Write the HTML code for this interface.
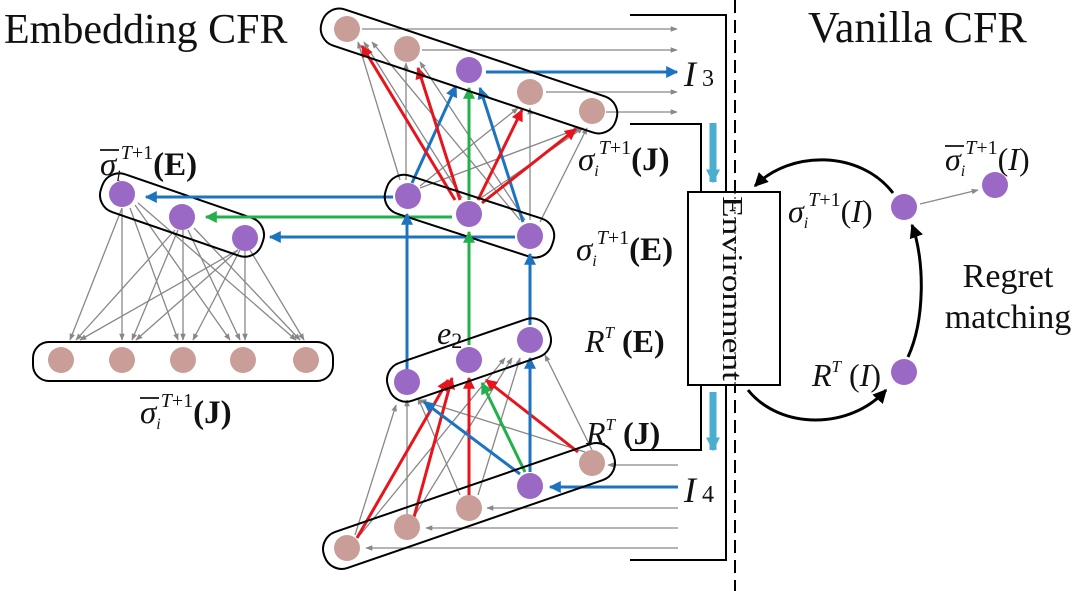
<!DOCTYPE html>
<html><head><meta charset="utf-8"><style>
html,body{margin:0;padding:0;background:#fff;width:1080px;height:591px;overflow:hidden}
svg{display:block}
text{font-family:"Liberation Serif",serif;fill:#111}
</style></head><body>
<svg width="1080" height="591" viewBox="0 0 1080 591" xmlns="http://www.w3.org/2000/svg">
<defs>
<marker id="ag" viewBox="0 0 10 10" refX="9" refY="5" markerWidth="7" markerHeight="7" orient="auto-start-reverse" markerUnits="userSpaceOnUse"><path d="M0,1 L10,5 L0,9 z" fill="#888"/></marker>
<marker id="ar" viewBox="0 0 10 10" refX="9" refY="5" markerWidth="12" markerHeight="12" orient="auto" markerUnits="userSpaceOnUse"><path d="M0,0 L10,5 L0,10 z" fill="#e8141c"/></marker>
<marker id="ab" viewBox="0 0 10 10" refX="9" refY="5" markerWidth="12" markerHeight="12" orient="auto" markerUnits="userSpaceOnUse"><path d="M0,0 L10,5 L0,10 z" fill="#1c74c0"/></marker>
<marker id="agr" viewBox="0 0 10 10" refX="9" refY="5" markerWidth="12" markerHeight="12" orient="auto" markerUnits="userSpaceOnUse"><path d="M0,0 L10,5 L0,10 z" fill="#22b04a"/></marker>
<marker id="ak" viewBox="0 0 10 10" refX="9" refY="5" markerWidth="14" markerHeight="14" orient="auto" markerUnits="userSpaceOnUse"><path d="M0,0 L10,5 L0,10 z" fill="#000"/></marker>
<marker id="al" viewBox="0 0 10 10" refX="9" refY="5" markerWidth="14" markerHeight="14" orient="auto" markerUnits="userSpaceOnUse"><path d="M0,0 L10,5 L0,10 z" fill="#4aaed0"/></marker>
</defs>

<text x="4" y="43" font-size="42">Embedding CFR</text>
<text x="808" y="42" font-size="44">Vanilla CFR</text>

<line x1="735" y1="0" x2="735" y2="591" stroke="#000" stroke-width="2" stroke-dasharray="13,7"/>

<polyline points="630,15 726,15 726,560 630,560" fill="none" stroke="#000" stroke-width="2"/>
<polyline points="630,124 701,124 701,192" fill="none" stroke="#000" stroke-width="2"/>
<polyline points="630,450 701,450 701,385" fill="none" stroke="#000" stroke-width="2"/>
<line x1="713" y1="123" x2="713" y2="182" stroke="#4aaed0" stroke-width="7" marker-end="url(#al)"/>
<line x1="713" y1="392" x2="713" y2="450" stroke="#4aaed0" stroke-width="7" marker-end="url(#al)"/>

<rect x="688" y="192" width="92" height="193" fill="#fff" stroke="#000" stroke-width="2"/>
<line x1="735" y1="192" x2="735" y2="385" stroke="#000" stroke-width="1" stroke-dasharray="2,3"/>
<text x="0" y="0" font-size="28" textLength="185" lengthAdjust="spacingAndGlyphs" transform="translate(723,196) rotate(90)">Environment</text>

<g stroke="#888" stroke-width="1.3" marker-end="url(#ag)">
<line x1="122" y1="208" x2="70" y2="340"/><line x1="122" y1="208" x2="122" y2="340"/><line x1="130" y1="208" x2="178" y2="340"/><line x1="135" y1="205" x2="230" y2="340"/><line x1="138" y1="203" x2="296" y2="340"/>
<line x1="175" y1="230" x2="76" y2="340"/><line x1="178" y1="230" x2="132" y2="340"/><line x1="183" y1="230" x2="183" y2="340"/><line x1="188" y1="230" x2="240" y2="340"/><line x1="194" y1="228" x2="300" y2="340"/>
<line x1="238" y1="250" x2="80" y2="340"/><line x1="238" y1="250" x2="136" y2="340"/><line x1="240" y1="250" x2="193" y2="340"/><line x1="245" y1="250" x2="245" y2="340"/><line x1="250" y1="250" x2="304" y2="340"/>
</g>
<rect x="33" y="342" width="300" height="39" rx="16" fill="none" stroke="#000" stroke-width="2"/>
<g fill="#c99e98"><circle cx="61" cy="360" r="13"/><circle cx="122" cy="360" r="13"/><circle cx="183" cy="360" r="13"/><circle cx="243" cy="360" r="13"/><circle cx="306" cy="360" r="13"/></g>
<rect x="97" y="195" width="170" height="40" rx="18" fill="none" stroke="#000" stroke-width="2" transform="rotate(19 182 215)"/>
<g fill="#9a69c6"><circle cx="122" cy="194" r="13"/><circle cx="182" cy="217" r="13"/><circle cx="245" cy="238" r="13"/></g>

<line x1="393" y1="197" x2="146" y2="197" stroke="#1c74c0" stroke-width="3" marker-end="url(#ab)"/>
<line x1="452" y1="217" x2="206" y2="217" stroke="#22b04a" stroke-width="3" marker-end="url(#agr)"/>
<line x1="515" y1="237" x2="270" y2="237" stroke="#1c74c0" stroke-width="3" marker-end="url(#ab)"/>

<g stroke="#888" stroke-width="1.3" marker-end="url(#ag)">
<line x1="362" y1="29" x2="677" y2="29"/><line x1="422" y1="50" x2="677" y2="50"/><line x1="546" y1="92" x2="677" y2="92"/><line x1="606" y1="112" x2="677" y2="112"/>
</g>
<line x1="486" y1="72" x2="677" y2="72" stroke="#1c74c0" stroke-width="3" marker-end="url(#ab)"/>
<text x="684" y="86" font-size="36" font-style="italic">I</text><text x="702" y="86" font-size="24">3</text>

<g stroke="#888" stroke-width="1.3" marker-end="url(#ag)">
<line x1="400" y1="180" x2="358" y2="42"/><line x1="406" y1="180" x2="406" y2="63"/><line x1="420" y1="186" x2="518" y2="108"/><line x1="420" y1="188" x2="580" y2="128"/>
<line x1="462" y1="198" x2="364" y2="42"/><line x1="520" y1="220" x2="372" y2="42"/><line x1="525" y1="220" x2="420" y2="62"/><line x1="530" y1="220" x2="530" y2="108"/><line x1="540" y1="222" x2="587" y2="128"/><line x1="478" y1="200" x2="583" y2="128"/>
</g>
<g stroke-width="3">
<line x1="412" y1="183" x2="456" y2="86" stroke="#1c74c0" marker-end="url(#ab)"/>
<line x1="469" y1="200" x2="469" y2="88" stroke="#22b04a" marker-end="url(#agr)"/>
<line x1="523" y1="222" x2="480" y2="88" stroke="#1c74c0" marker-end="url(#ab)"/>
<line x1="455" y1="200" x2="362" y2="46" stroke="#e8141c" marker-end="url(#ar)"/>
<line x1="460" y1="200" x2="418" y2="68" stroke="#e8141c" marker-end="url(#ar)"/>
<line x1="478" y1="200" x2="522" y2="110" stroke="#e8141c" marker-end="url(#ar)"/>
<line x1="482" y1="203" x2="576" y2="129" stroke="#e8141c" marker-end="url(#ar)"/>
</g>

<rect x="314" y="52" width="310" height="38" rx="18" fill="none" stroke="#000" stroke-width="2" transform="rotate(18.5 469 71)"/>
<g fill="#c99e98"><circle cx="347" cy="29" r="13"/><circle cx="407" cy="49" r="13"/><circle cx="530" cy="92" r="13"/><circle cx="592" cy="111" r="13"/></g>
<circle cx="469" cy="70" r="13" fill="#9a69c6"/>

<rect x="382" y="196" width="175" height="40" rx="18" fill="none" stroke="#000" stroke-width="2" transform="rotate(18 469 216)"/>
<g fill="#9a69c6"><circle cx="408" cy="196" r="13"/><circle cx="469" cy="214" r="13"/><circle cx="530" cy="236" r="13"/></g>

<line x1="407" y1="370" x2="407" y2="214" stroke="#1c74c0" stroke-width="3" marker-end="url(#ab)"/>
<line x1="469" y1="345" x2="469" y2="232" stroke="#22b04a" stroke-width="3" marker-end="url(#agr)"/>
<line x1="530" y1="325" x2="530" y2="254" stroke="#1c74c0" stroke-width="3" marker-end="url(#ab)"/>

<g stroke="#888" stroke-width="1.3" marker-end="url(#ag)">
<line x1="678" y1="465" x2="608" y2="465"/><line x1="678" y1="508" x2="487" y2="508"/><line x1="678" y1="528" x2="426" y2="528"/><line x1="678" y1="548" x2="366" y2="548"/>
</g>
<line x1="678" y1="487" x2="550" y2="487" stroke="#1c74c0" stroke-width="3" marker-end="url(#ab)"/>
<text x="684" y="502" font-size="36" font-style="italic">I</text><text x="702" y="502" font-size="24">4</text>

<g stroke="#888" stroke-width="1.3" marker-end="url(#ag)">
<line x1="355" y1="535" x2="396" y2="405"/><line x1="407" y1="515" x2="407" y2="400"/><line x1="360" y1="535" x2="505" y2="358"/><line x1="415" y1="515" x2="512" y2="358"/>
<line x1="460" y1="495" x2="418" y2="398"/><line x1="478" y1="495" x2="520" y2="358"/><line x1="585" y1="452" x2="420" y2="400"/><line x1="592" y1="450" x2="545" y2="355"/>
</g>
<g stroke-width="3">
<line x1="357" y1="538" x2="448" y2="380" stroke="#e8141c" marker-end="url(#ar)"/>
<line x1="414" y1="517" x2="452" y2="378" stroke="#e8141c" marker-end="url(#ar)"/>
<line x1="469" y1="496" x2="469" y2="378" stroke="#e8141c" marker-end="url(#ar)"/>
<line x1="578" y1="452" x2="486" y2="380" stroke="#e8141c" marker-end="url(#ar)"/>
<line x1="520" y1="474" x2="424" y2="402" stroke="#1c74c0" marker-end="url(#ab)"/>
<line x1="525" y1="472" x2="482" y2="383" stroke="#22b04a" marker-end="url(#agr)"/>
<line x1="530" y1="472" x2="530" y2="358" stroke="#1c74c0" marker-end="url(#ab)"/>
</g>

<rect x="384" y="340" width="170" height="40" rx="18" fill="none" stroke="#000" stroke-width="2" transform="rotate(-19 469 360)"/>
<g fill="#9a69c6"><circle cx="407" cy="382" r="13"/><circle cx="469" cy="360" r="13"/><circle cx="530" cy="340" r="13"/></g>

<rect x="316" y="487" width="306" height="38" rx="18" fill="none" stroke="#000" stroke-width="2" transform="rotate(-19 469 506)"/>
<g fill="#c99e98"><circle cx="347" cy="548" r="13"/><circle cx="407" cy="527" r="13"/><circle cx="469" cy="508" r="13"/><circle cx="592" cy="463" r="13"/></g>
<circle cx="530" cy="486" r="13" fill="#9a69c6"/>

<text x="100" y="175" font-size="33"><tspan font-style="italic">σ</tspan><tspan font-size="16" font-style="italic" dy="6">i</tspan><tspan font-size="20" font-style="italic" dy="-22">T</tspan><tspan font-size="20">+1</tspan><tspan dy="16" font-weight="bold">(E)</tspan></text>
<line x1="100" y1="150" x2="119" y2="150" stroke="#111" stroke-width="1.8"/>
<text x="140" y="423" font-size="33"><tspan font-style="italic">σ</tspan><tspan font-size="16" font-style="italic" dy="6">i</tspan><tspan font-size="20" font-style="italic" dy="-22">T</tspan><tspan font-size="20">+1</tspan><tspan dy="16" font-weight="bold">(J)</tspan></text>
<line x1="140" y1="398" x2="159" y2="398" stroke="#111" stroke-width="1.8"/>
<text x="578" y="170" font-size="33"><tspan font-style="italic">σ</tspan><tspan font-size="16" font-style="italic" dy="6">i</tspan><tspan font-size="20" font-style="italic" dy="-22">T</tspan><tspan font-size="20">+1</tspan><tspan dy="16" font-weight="bold">(J)</tspan></text>
<text x="576" y="260" font-size="33"><tspan font-style="italic">σ</tspan><tspan font-size="16" font-style="italic" dy="6">i</tspan><tspan font-size="20" font-style="italic" dy="-22">T</tspan><tspan font-size="20">+1</tspan><tspan dy="16" font-weight="bold">(E)</tspan></text>
<text x="585" y="352" font-size="32"><tspan font-style="italic">R</tspan><tspan font-size="17" font-style="italic" dy="-14">T</tspan><tspan dy="14" font-weight="bold"> (E)</tspan></text>
<text x="586" y="444" font-size="32"><tspan font-style="italic">R</tspan><tspan font-size="17" font-style="italic" dy="-14">T</tspan><tspan dy="14" font-weight="bold"> (J)</tspan></text>
<text x="437" y="344" font-size="32" font-style="italic">e<tspan font-size="22" font-style="normal" dy="4">2</tspan></text>

<path d="M893,193 C860,150 790,150 755,186" fill="none" stroke="#000" stroke-width="3" marker-end="url(#ak)"/>
<path d="M748,390 C780,430 850,430 886,390" fill="none" stroke="#000" stroke-width="3" marker-end="url(#ak)"/>
<path d="M908,357 C925,320 925,260 912,225" fill="none" stroke="#000" stroke-width="3" marker-end="url(#ak)"/>
<line x1="920" y1="204" x2="978" y2="190" stroke="#888" stroke-width="1.3" marker-end="url(#ag)"/>
<g fill="#9a69c6"><circle cx="904" cy="207" r="13"/><circle cx="995" cy="185" r="13"/><circle cx="904" cy="372" r="13"/></g>
<text x="788" y="222" font-size="32"><tspan font-style="italic">σ</tspan><tspan font-size="16" font-style="italic" dy="6">i</tspan><tspan font-size="20" font-style="italic" dy="-22">T</tspan><tspan font-size="20">+1</tspan><tspan dy="16">(</tspan><tspan font-style="italic">I</tspan><tspan>)</tspan></text>
<text x="945" y="170" font-size="32"><tspan font-style="italic">σ</tspan><tspan font-size="16" font-style="italic" dy="6">i</tspan><tspan font-size="20" font-style="italic" dy="-22">T</tspan><tspan font-size="20">+1</tspan><tspan dy="16">(</tspan><tspan font-style="italic">I</tspan><tspan>)</tspan></text>
<line x1="945" y1="146" x2="964" y2="146" stroke="#111" stroke-width="1.8"/>
<text x="812" y="386" font-size="32"><tspan font-style="italic">R</tspan><tspan font-size="17" font-style="italic" dy="-14">T</tspan><tspan dy="14"> (</tspan><tspan font-style="italic">I</tspan><tspan>)</tspan></text>
<text x="1008" y="287" font-size="34" text-anchor="middle">Regret</text>
<text x="1008" y="328" font-size="34" text-anchor="middle">matching</text>
</svg>
</body></html>
